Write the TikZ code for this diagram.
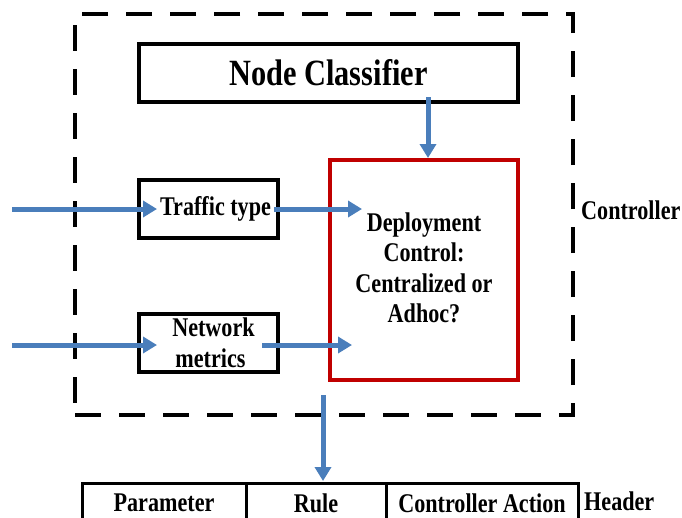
\documentclass[tikz,border=0pt]{standalone}
\usepackage{fontspec}
\setmainfont{Liberation Serif}[FakeStretch=0.82]
\usetikzlibrary{arrows.meta}
\definecolor{arrowblue}{RGB}{74,126,187}
\definecolor{boxred}{RGB}{192,0,0}
\begin{document}
\begin{tikzpicture}[x=1pt,y=-1pt,
  every node/.style={font=\bfseries\fontsize{27}{30.5}\selectfont, inner sep=0pt, align=center},
  blk/.style={draw=black, line width=4pt, minimum width=#1},
  flow/.style={draw=arrowblue, line width=5pt, -{Triangle[length=14pt,width=16pt]}},
  cell/.style={draw=black, line width=3pt, minimum height=40pt, minimum width=#1}
]
\useasboundingbox[fill=white] (0,0) rectangle (682,517);
% controller dashed region
\node[draw=black, line width=4pt, dash pattern=on 26pt off 18pt, minimum width=498pt, minimum height=401pt] (ctrl) at (324,214.5) {};
\node[anchor=west] (ctrllabel) at (581,210) {Controller};
% nodes
\node[blk=379pt, minimum height=58pt, font=\bfseries\fontsize{37}{42}\selectfont] (nc) at (328.5,73) {Node Classifier};
\node[blk=139pt, minimum height=58pt] (tt) at (208.5,209) {\hspace*{14pt}Traffic type};
\node[blk=139pt, minimum height=58pt] (nm) at (208.5,343) {\hspace*{10pt}Network\\\hspace*{4pt}metrics};
\node[draw=boxred, line width=4pt, minimum width=188pt, minimum height=220pt] (dc) at (424,270) {};
\node (dctext) at (424,268) {Deployment\\Control:\\Centralized or\\Adhoc?};
% table
\node[cell=164pt] (par) at (164,503) {Parameter};
\node[cell=140pt] (rule) at (316,503) {Rule};
\node[cell=192pt] (act) at (482,503) {Controller Action};
\node[anchor=west] (hdr) at (584,501) {Header};
% input coordinates
\coordinate (in1) at (12,209);
\coordinate (in2) at (12,345);
% connectors
\draw[flow] (in1) -- (157,209);
\draw[flow] ([xshift=-6pt]tt.east) -- (362,209);
\draw[flow] (in2) -- (157,345);
\draw[flow] (262,345) -- (352,345);
\draw[flow] (428,97) -- (dc.north -| 428,0);
\draw[flow] (323,395) -- (323,481);
\end{tikzpicture}
\end{document}
